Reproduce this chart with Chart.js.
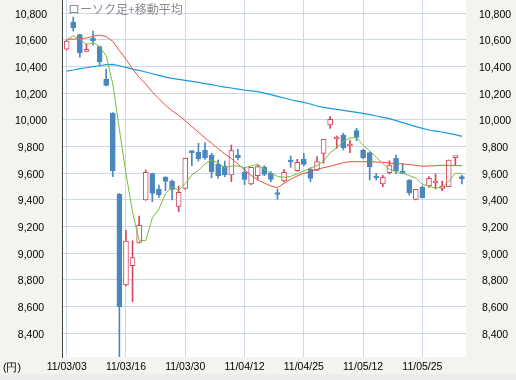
<!DOCTYPE html>
<html><head><meta charset="utf-8">
<script src="https://cdn.jsdelivr.net/npm/chart.js@4.4.1/dist/chart.umd.min.js"></script>
<style>html,body{margin:0;padding:0;background:#f4f3ef;}#wrap{width:516px;height:380px;}</style>
</head><body><div id="wrap"><canvas id="c" width="516" height="380"></canvas></div>
<script>
const dates = ['11/03/03','11/03/04','11/03/07','11/03/08','11/03/09','11/03/10','11/03/11',
 '11/03/14','11/03/15','11/03/16','11/03/17','11/03/18','11/03/22','11/03/23','11/03/24','11/03/25',
 '11/03/28','11/03/29','11/03/30','11/03/31','11/04/01','11/04/04','11/04/05','11/04/06','11/04/07','11/04/08',
 '11/04/11','11/04/12','11/04/13','11/04/14','11/04/15','11/04/18','11/04/19','11/04/20','11/04/21','11/04/22',
 '11/04/25','11/04/26','11/04/27','11/04/28','11/05/02','11/05/06','11/05/09','11/05/10','11/05/11','11/05/12','11/05/13',
 '11/05/16','11/05/17','11/05/18','11/05/19','11/05/20','11/05/23','11/05/24','11/05/25','11/05/26','11/05/27',
 '11/05/30','11/05/31','11/06/01','11/06/02'];
const openP  = [10532,10735,10640,10515,10615,10550,10305,10052,9445,8762,8907,9082,9400,9597,9482,9572,9542,9352,9487,9765,9760,9772,9737,9670,9655,9587,9737,9607,9520,9582,9647,9600,9445,9542,9690,9620,9705,9632,9625,9750,9962,9857,9887,9805,9920,9775,9755,9570,9520,9605,9712,9615,9550,9405,9495,9505,9527,9487,9500,9717,9565];
const highP  = [10600,10772,10645,10572,10667,10555,10382,10055,9448,9170,9095,9280,9625,9602,9512,9575,9550,9505,9712,9768,9825,9830,9750,9700,9692,9812,9780,9645,9645,9662,9657,9612,9482,9630,9730,9705,9750,9640,9725,9855,10025,9880,9900,9850,9937,9780,9760,9600,9585,9695,9737,9675,9552,9480,9505,9575,9595,9542,9700,9722,9587];
const lowP   = [10525,10667,10472,10512,10562,10410,10255,9575,8222,8755,8637,9075,9398,9387,9420,9470,9400,9312,9480,9657,9692,9705,9567,9562,9575,9537,9700,9515,9515,9555,9582,9537,9405,9535,9645,9615,9655,9537,9620,9675,9937,9787,9775,9755,9845,9710,9550,9550,9500,9595,9600,9595,9437,9400,9415,9495,9482,9470,9500,9662,9520];
const closeP = [10592,10690,10505,10530,10595,10437,10260,9620,8600,9092,8967,9210,9607,9450,9437,9540,9480,9457,9712,9755,9710,9717,9612,9582,9590,9770,9717,9555,9645,9650,9592,9555,9441,9607,9685,9682,9667,9562,9687,9855,10005,9862,9792,9820,9870,9717,9650,9565,9570,9662,9617,9600,9455,9480,9417,9562,9532,9505,9700,9720,9560];
const ma5  = [10600,10632,10608,10562,10582,10550,10480,10270,9930,9600,9307,9097,9095,9265,9332,9447,9500,9472,9523,9587,9622,9670,9700,9677,9643,9655,9655,9643,9655,9667,9632,9600,9577,9570,9577,9595,9617,9640,9657,9690,9755,9792,9840,9865,9868,9810,9768,9720,9672,9630,9612,9603,9583,9565,9517,9505,9488,9497,9540,9600,9598];
const ma25 = [10605,10607,10610,10615,10628,10637,10625,10590,10520,10455,10385,10320,10270,10210,10160,10110,10070,10035,9995,9950,9908,9865,9825,9785,9745,9710,9670,9625,9585,9550,9527,9505,9492,9525,9555,9580,9600,9612,9630,9642,9653,9665,9680,9687,9687,9687,9687,9685,9682,9677,9672,9670,9665,9660,9653,9655,9657,9660,9660,9657,9657];
const ma75 = [10367,10375,10385,10392,10400,10407,10415,10417,10407,10395,10382,10372,10360,10347,10335,10322,10312,10305,10297,10290,10282,10273,10265,10255,10247,10240,10232,10225,10218,10212,10202,10190,10177,10165,10152,10142,10132,10120,10105,10095,10087,10080,10072,10065,10057,10050,10040,10030,10020,10010,9995,9980,9965,9950,9937,9925,9917,9910,9900,9890,9877];
const yTicks = [8400,8600,8800,9000,9200,9400,9600,9800,10000,10200,10400,10600,10800];
const xTickLabels = ['11/03/03','11/03/16','11/03/30','11/04/12','11/04/25','11/05/12','11/05/25'];
const titleText = 'ローソク足+移動平均';
const unitText = '(円)';

const UP = '#d9465c', DOWN = '#4a87bf', GRID = '#cad7ec';
const isUp = i => closeP[i] >= openP[i];
const wicks = dates.map((d,i)=>({x:i, y:[lowP[i], highP[i]]}));
const bodies = dates.map((d,i)=>({x:i, y:[Math.min(openP[i],closeP[i]), Math.max(openP[i],closeP[i])]}));
const line = arr => arr.map((v,i)=>({x:i, y:v}));

const bgPlugin = {
  id:'bg',
  beforeDraw(chart){
    const {ctx, chartArea:a} = chart;
    ctx.save();
    ctx.fillStyle = '#f4f3ef'; ctx.fillRect(0,0,chart.width,chart.height);
    ctx.fillStyle = '#ececec'; ctx.fillRect(0,374,chart.width,chart.height-374);
    ctx.fillStyle = '#ffffff'; ctx.fillRect(a.left,a.top,a.right-a.left,a.bottom-a.top);
    ctx.restore();
  },
  beforeDatasetsDraw(chart){
    const {ctx, chartArea:a} = chart;
    ctx.save();
    ctx.font = '12px "Noto Sans CJK JP"';
    ctx.fillStyle = '#8a8a8a'; ctx.textBaseline='middle'; ctx.textAlign='left';
    ctx.fillText(titleText, a.left+6, a.top+9);
    ctx.restore();
  },
  afterDraw(chart){
    const {ctx, chartArea:a} = chart;
    ctx.save();
    ctx.font = '10.5px "Liberation Sans"';
    ctx.fillStyle = '#000'; ctx.textBaseline='middle'; ctx.textAlign='left';
    ctx.fillText(unitText, 3, a.bottom+11);
    ctx.restore();
  }
};

const tickFont = {family:'"Liberation Sans", Arial, sans-serif', size:10.5};
const yBase = {
  type:'linear', min:8222, max:10900, bounds:'data',
  afterBuildTicks: ax => { ax.ticks = yTicks.map(v=>({value:v})); },
  ticks:{font:tickFont, color:'#000', callback:v=>v.toLocaleString('en-US'), autoSkip:false, labelOffset:1.5, crossAlign:'center'}
};

new Chart(document.getElementById('c'), {
  type:'bar',
  data:{datasets:[
    {type:'line', label:'MA5', data:line(ma5), borderColor:'#7dbd3c', borderWidth:1, pointRadius:0, tension:0, order:0},
    {type:'line', label:'MA25', data:line(ma25), borderColor:'#f0503a', borderWidth:1, pointRadius:0, tension:0, order:0},
    {type:'line', label:'MA75', data:line(ma75), borderColor:'#1a9ad9', borderWidth:1.2, pointRadius:0, tension:0, order:0},
    {type:'bar', label:'body', data:bodies, barThickness:5, minBarLength:2, borderWidth:1, borderSkipped:false, grouped:false,
      backgroundColor: c => isUp(c.dataIndex) ? '#ffffff' : DOWN,
      borderColor: c => isUp(c.dataIndex) ? UP : DOWN, order:2},
    {type:'bar', label:'wick', data:wicks, barThickness:1, borderWidth:0, grouped:false,
      backgroundColor: c => isUp(c.dataIndex) ? UP : DOWN, order:3}
  ]},
  options:{
    responsive:false, animation:false, events:[],
    layout:{padding:0},
    plugins:{legend:{display:false}, tooltip:{enabled:false}},
    scales:{
      x:{type:'linear', position:'bottom', min:-0.71, max:60.62, bounds:'data', offset:false,
        afterBuildTicks: ax => { ax.ticks = xTickLabels.map(l=>({value:dates.indexOf(l)})); },
        ticks:{font:tickFont, color:'#000', autoSkip:false, maxRotation:0, padding:4, callback:v=>dates[v]},
        grid:{color:GRID, drawTicks:false, offset:false}, border:{display:false},
        afterFit: s => { s.height = 23; s.paddingLeft = 0; s.paddingRight = 0; }
      },
      y:Object.assign({}, yBase, {position:'left',
        ticks:Object.assign({}, yBase.ticks, {padding:15}),
        grid:{color:GRID, drawTicks:false}, border:{display:true, color:'#444'},
        afterFit: s => { s.width = 62; s.paddingTop = 0; s.paddingBottom = 0; }
      }),
      y2:Object.assign({}, yBase, {position:'right',
        ticks:Object.assign({}, yBase.ticks, {padding:13}),
        grid:{display:false, drawTicks:false}, border:{display:false},
        afterFit: s => { s.width = 50; s.paddingTop = 0; s.paddingBottom = 0; }
      })
    }
  },
  plugins:[bgPlugin]
});
</script></body></html>
